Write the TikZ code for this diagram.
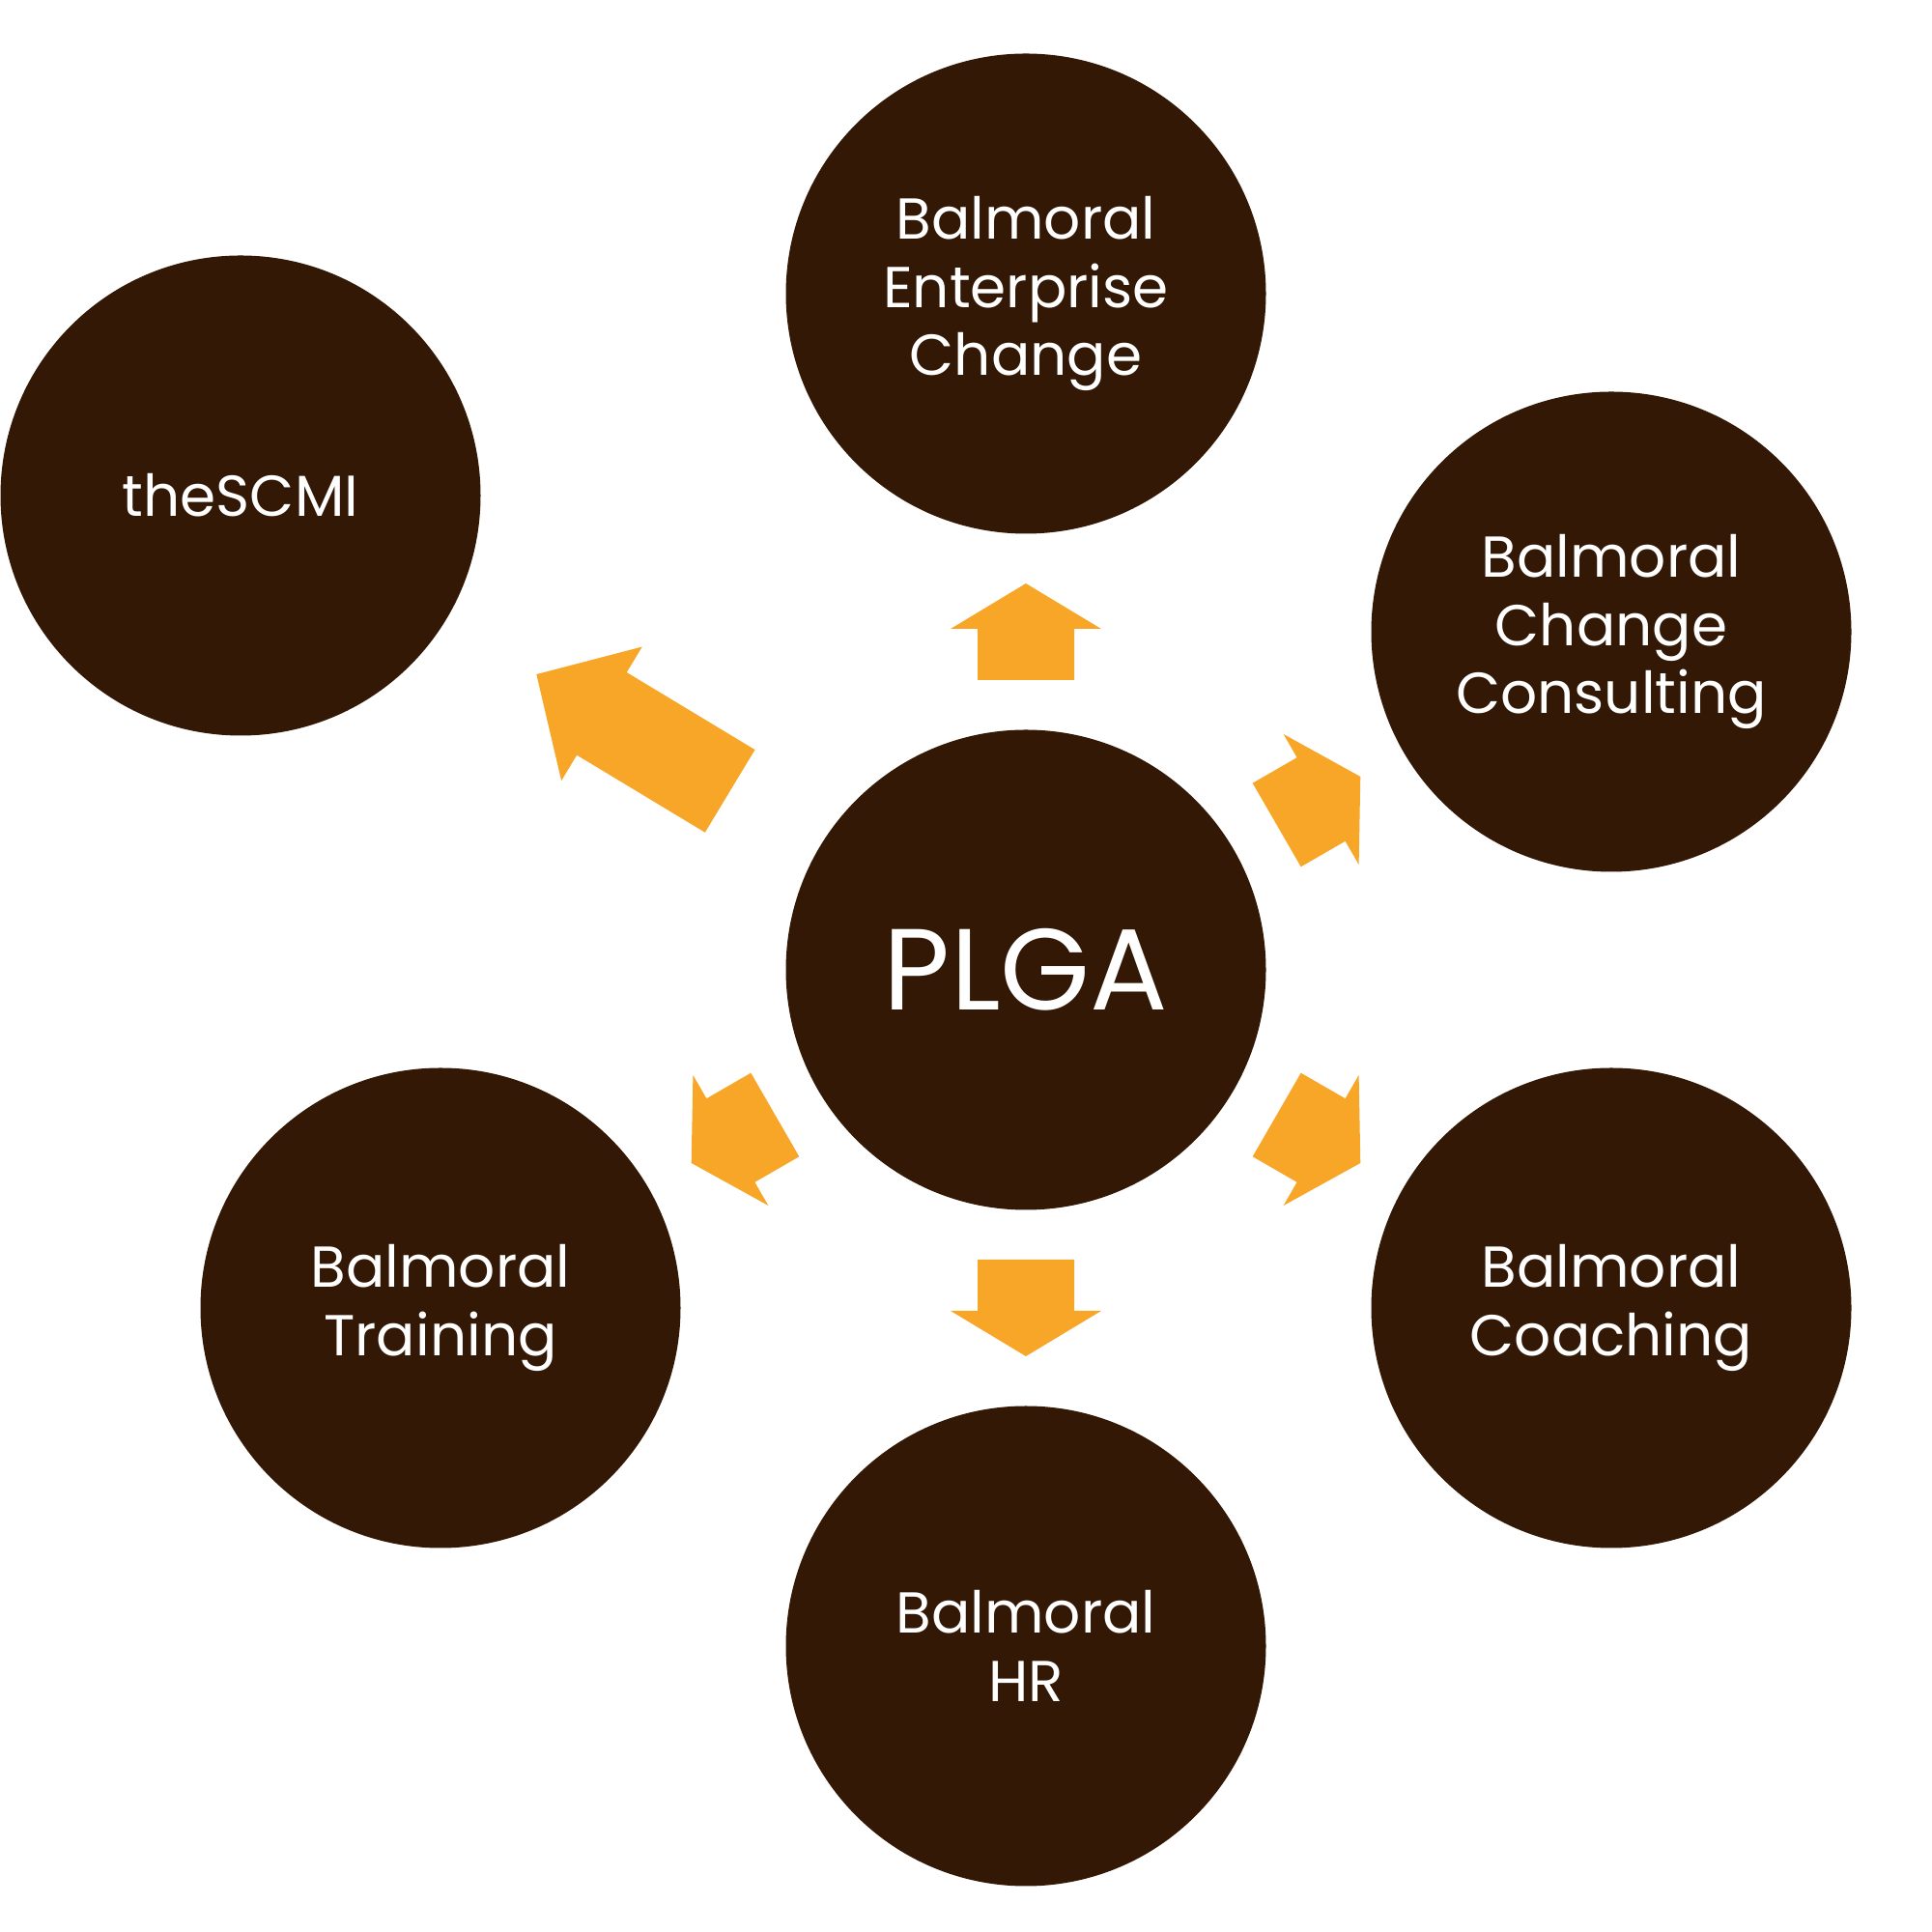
\documentclass[tikz,border=0pt]{standalone}
\usepackage{fontspec}
\setmainfont{Poppins}
\usetikzlibrary{calc}
\definecolor{orbbrown}{HTML}{321805}
\definecolor{arroworange}{HTML}{F7A628}
\tikzset{
  orb/.style={circle, fill=orbbrown, minimum size=4.97cm, inner sep=0pt,
    text=white, align=center, font=\fontsize{17}{20}\selectfont},
  hub/.style={orb, font=\fontsize{34}{40}\selectfont},
  pics/blockarrow/.style args={#1/#2/#3}{code={
    \fill[arroworange] (-#1/2,-0.5) -- ({#1/2-#2},-0.5) -- ({#1/2-#2},-#3/2)
      -- (#1/2,0) -- ({#1/2-#2},#3/2) -- ({#1/2-#2},0.5) -- (-#1/2,0.5) -- cycle;
  }}
}
\begin{document}
\begin{tikzpicture}
    \useasboundingbox (0,0) rectangle (20,20);
    \node [hub] (plga) at (10.62,9.96) {PLGA};
    \node [orb] (enterprise) at (10.62,16.96) {Balmoral\\Enterprise\\Change};
    \node [orb] (consulting) at (16.68,13.46) {Balmoral\\Change\\Consulting};
    \node [orb] (coaching) at (16.68,6.46) {Balmoral\\Coaching};
    \node [orb] (hr) at (10.62,2.96) {Balmoral\\HR};
    \node [orb] (training) at (4.56,6.46) {Balmoral\\Training};
    \node [orb] (scmi) at (2.49,14.87) {theSCMI};

    % block arrows out of the hub
    \pic [rotate=90] at ($(plga)!0.5!(enterprise)$) {blockarrow=1/0.47/1.56};
    \pic [rotate=30] at ($(plga)!0.5!(consulting)$) {blockarrow=1/0.47/1.56};
    \pic [rotate=-30] at ($(plga)!0.5!(coaching)$) {blockarrow=1/0.47/1.56};
    \pic [rotate=-90] at ($(plga)!0.5!(hr)$) {blockarrow=1/0.47/1.56};
    \pic [rotate=210] at ($(plga)!0.5!(training)$) {blockarrow=1/0.47/1.56};
    \pic [rotate=148.9] at ($(plga)!0.5!(scmi)$) {blockarrow=2.34/0.79/1.62};
\end{tikzpicture}
\end{document}
